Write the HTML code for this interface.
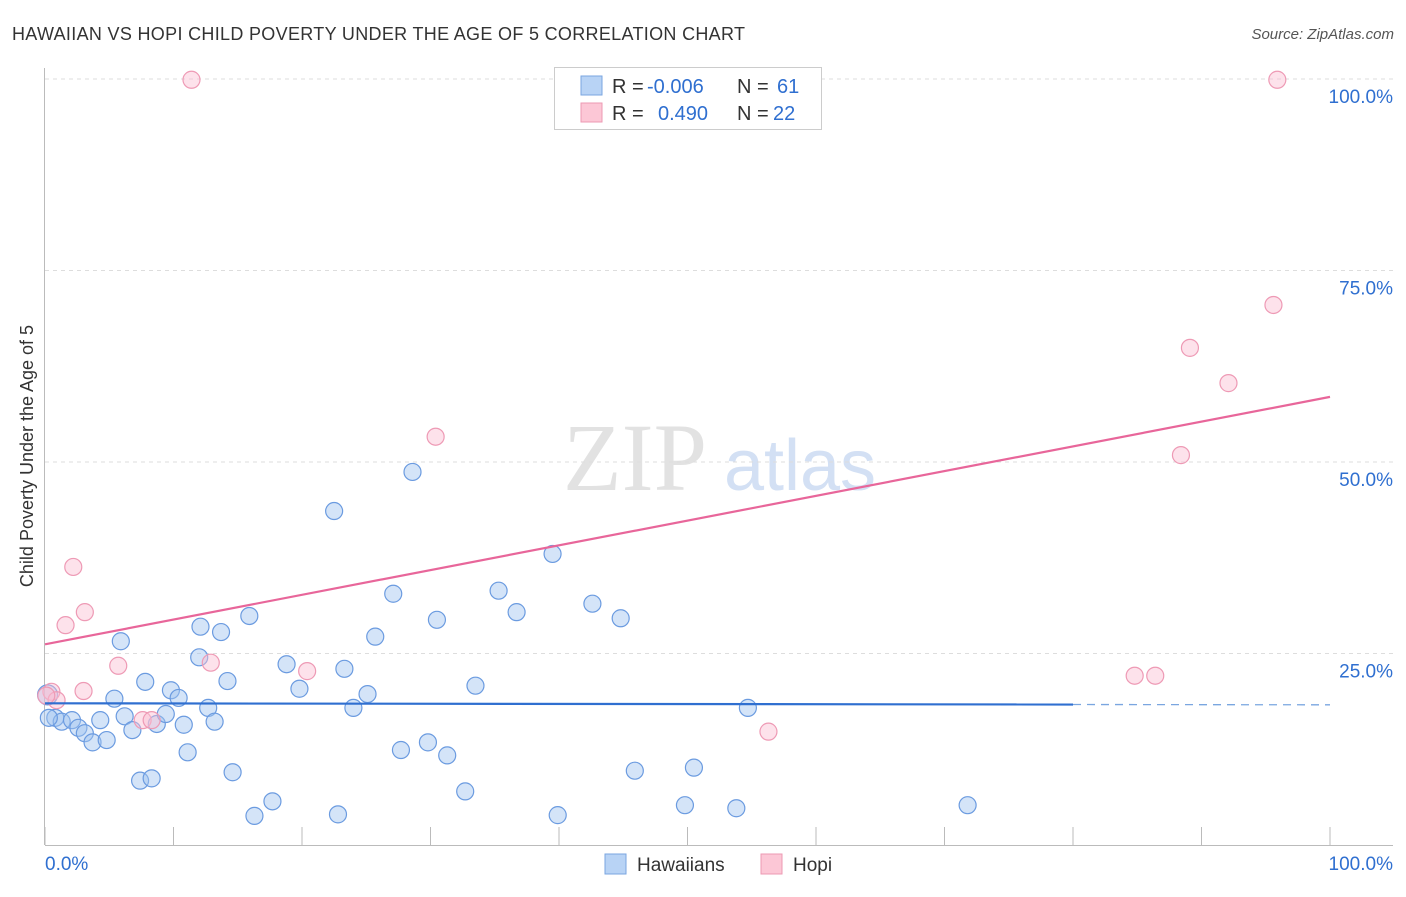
<!DOCTYPE html>
<html><head><meta charset="utf-8"><style>
body{margin:0;background:#fff;width:1406px;height:892px;overflow:hidden;font-family:"Liberation Sans",sans-serif}
</style></head><body>
<svg id="c" width="1406" height="892" xmlns="http://www.w3.org/2000/svg">
<text x="12" y="40" font-size="18" fill="#333" textLength="733" lengthAdjust="spacing">HAWAIIAN VS HOPI CHILD POVERTY UNDER THE AGE OF 5 CORRELATION CHART</text>
<text x="1394" y="39" font-size="15" fill="#555" text-anchor="end" font-style="italic">Source: ZipAtlas.com</text>
<text x="33" y="456" font-size="18" fill="#333" text-anchor="middle" transform="rotate(-90 33 456)">Child Poverty Under the Age of 5</text>
<g><text x="635" y="490" font-size="96" fill="#e2e2e2" font-family="Liberation Serif,serif" text-anchor="middle">ZIP</text><text x="800" y="490" font-size="72" fill="#d3e0f4" text-anchor="middle">atlas</text></g>
<g id="grid"></g><g id="marks"></g>
<g>
<rect x="554.5" y="67.5" width="267" height="62" fill="#fff" stroke="#ccc"/>
<rect x="581" y="76" width="21" height="19" fill="#b8d3f5" stroke="#7aa6e0"/>
<rect x="581" y="103" width="21" height="19" fill="#fcc7d6" stroke="#ec9ab3"/>
<text x="612" y="93" font-size="20" fill="#333">R =</text>
<text x="647" y="93" font-size="20" fill="#2f6fd0">-0.006</text>
<text x="737" y="93" font-size="20" fill="#333">N =</text>
<text x="777" y="93" font-size="20" fill="#2f6fd0">61</text>
<text x="612" y="120" font-size="20" fill="#333">R =</text>
<text x="658" y="120" font-size="20" fill="#2f6fd0">0.490</text>
<text x="737" y="120" font-size="20" fill="#333">N =</text>
<text x="773" y="120" font-size="20" fill="#2f6fd0">22</text>
</g>
<g>
<rect x="605" y="854" width="21" height="20" fill="#b8d3f5" stroke="#7aa6e0"/>
<text x="637" y="871" font-size="19" fill="#333">Hawaiians</text>
<rect x="761" y="854" width="21" height="20" fill="#fcc7d6" stroke="#ec9ab3"/>
<text x="793" y="871" font-size="19" fill="#333">Hopi</text>
</g>
</svg>
<script>
const yTicks=[25,50,75,100];
const yTickLabels=["25.0%","50.0%","75.0%","100.0%"];
const xTicks=[0,10,20,30,40,50,60,70,80,90,100];
const blueX=[0.2,0.8,1.3,2.1,2.6,3.1,3.7,4.3,4.8,5.4,5.9,6.2,6.8,7.4,7.8,8.3,8.7,9.4,9.8,10.4,10.8,11.1,12.0,12.1,12.7,13.2,13.7,14.2,14.6,15.9,16.3,17.7,18.8,19.8,22.5,22.8,23.3,24.0,25.1,25.7,27.1,27.7,28.6,29.8,30.5,31.3,32.7,33.5,35.3,36.7,39.5,39.9,42.6,44.8,45.9,49.8,50.5,53.8,54.7,71.8,0.3];
const blueY=[19.6,16.6,16.1,16.3,15.3,14.6,13.4,16.3,13.7,19.1,26.6,16.8,15.0,8.4,21.3,8.7,15.8,17.1,20.2,19.2,15.7,12.1,24.5,28.5,17.9,16.1,27.8,21.4,9.5,29.9,3.8,5.7,23.6,20.4,43.6,4.0,23.0,17.9,19.7,27.2,32.8,12.4,48.7,13.4,29.4,11.7,7.0,20.8,33.2,30.4,38.0,3.9,31.5,29.6,9.7,5.2,10.1,4.8,17.9,5.2,16.6];
const pinkX=[11.4,95.9,95.6,89.1,92.1,30.4,88.4,2.2,3.1,1.6,5.7,12.9,20.4,3.0,0.5,0.9,7.6,8.3,84.8,86.4,56.3,0.1];
const pinkY=[99.9,99.9,70.5,64.9,60.3,53.3,50.9,36.3,30.4,28.7,23.4,23.8,22.7,20.1,20.0,18.9,16.3,16.3,22.1,22.1,14.8,19.5];
const blueTrend=[18.5,18.3];const pinkTrend=[26.2,58.5];
const X=v=>45+v*12.85, Y=v=>845-v*7.66;
const NS="http://www.w3.org/2000/svg";
function mk(t,a,p){const e=document.createElementNS(NS,t);for(const k in a)e.setAttribute(k,a[k]);p.appendChild(e);return e;}
const g=document.getElementById('grid'),m=document.getElementById('marks');
yTicks.forEach((t,i)=>{const l=mk('line',{x1:45,x2:1393,y1:Y(t),y2:Y(t),stroke:'#ddd','stroke-dasharray':'4,4'},g);


const tx=mk('text',{x:1393,y:Y(t)+24,'font-size':19,fill:'#2f6fd0','text-anchor':'end'},g);tx.textContent=yTickLabels[i];

});
let ax=mk('line',{x1:45,x2:1393,y1:845.5,y2:845.5,stroke:'#bbb'},g);


let ay=mk('line',{x1:44.5,x2:44.5,y1:68,y2:845,stroke:'#bbb'},g);


xTicks.forEach(t=>{const l=mk('line',{x1:X(t),x2:X(t),y1:827,y2:845,stroke:'#bbb'},g);

});
let t0=mk('text',{x:45,y:870,'font-size':19,fill:'#2f6fd0'},g);t0.textContent='0.0%';


let t1=mk('text',{x:1393,y:870,'font-size':19,fill:'#2f6fd0','text-anchor':'end'},g);t1.textContent='100.0%';


blueX.forEach((x,i)=>{const c=mk('circle',{cx:X(x),cy:Y(blueY[i]),r:i==0?10:8.5,fill:'rgba(160,196,240,0.45)',stroke:'#6b9be0','stroke-width':1.2},m);

});
pinkX.forEach((x,i)=>{const c=mk('circle',{cx:X(x),cy:Y(pinkY[i]),r:8.5,fill:'rgba(250,190,210,0.45)',stroke:'#ee9ab5','stroke-width':1.2},m);

});
const yb=x=>blueTrend[0]+(blueTrend[1]-blueTrend[0])*x/100;
let bl=mk('line',{x1:X(0),x2:X(80),y1:Y(yb(0)),y2:Y(yb(80)),stroke:'#2f6fd0','stroke-width':2.2},m);


let bd=mk('line',{x1:X(80),x2:X(100),y1:Y(yb(80)),y2:Y(yb(100)),stroke:'#7aa6e0','stroke-width':1.3,'stroke-dasharray':'8,6'},m);


let pl=mk('line',{x1:X(0),x2:X(100),y1:Y(pinkTrend[0]),y2:Y(pinkTrend[1]),stroke:'#e8669a','stroke-width':2.2},m);


</script>
</body></html>
